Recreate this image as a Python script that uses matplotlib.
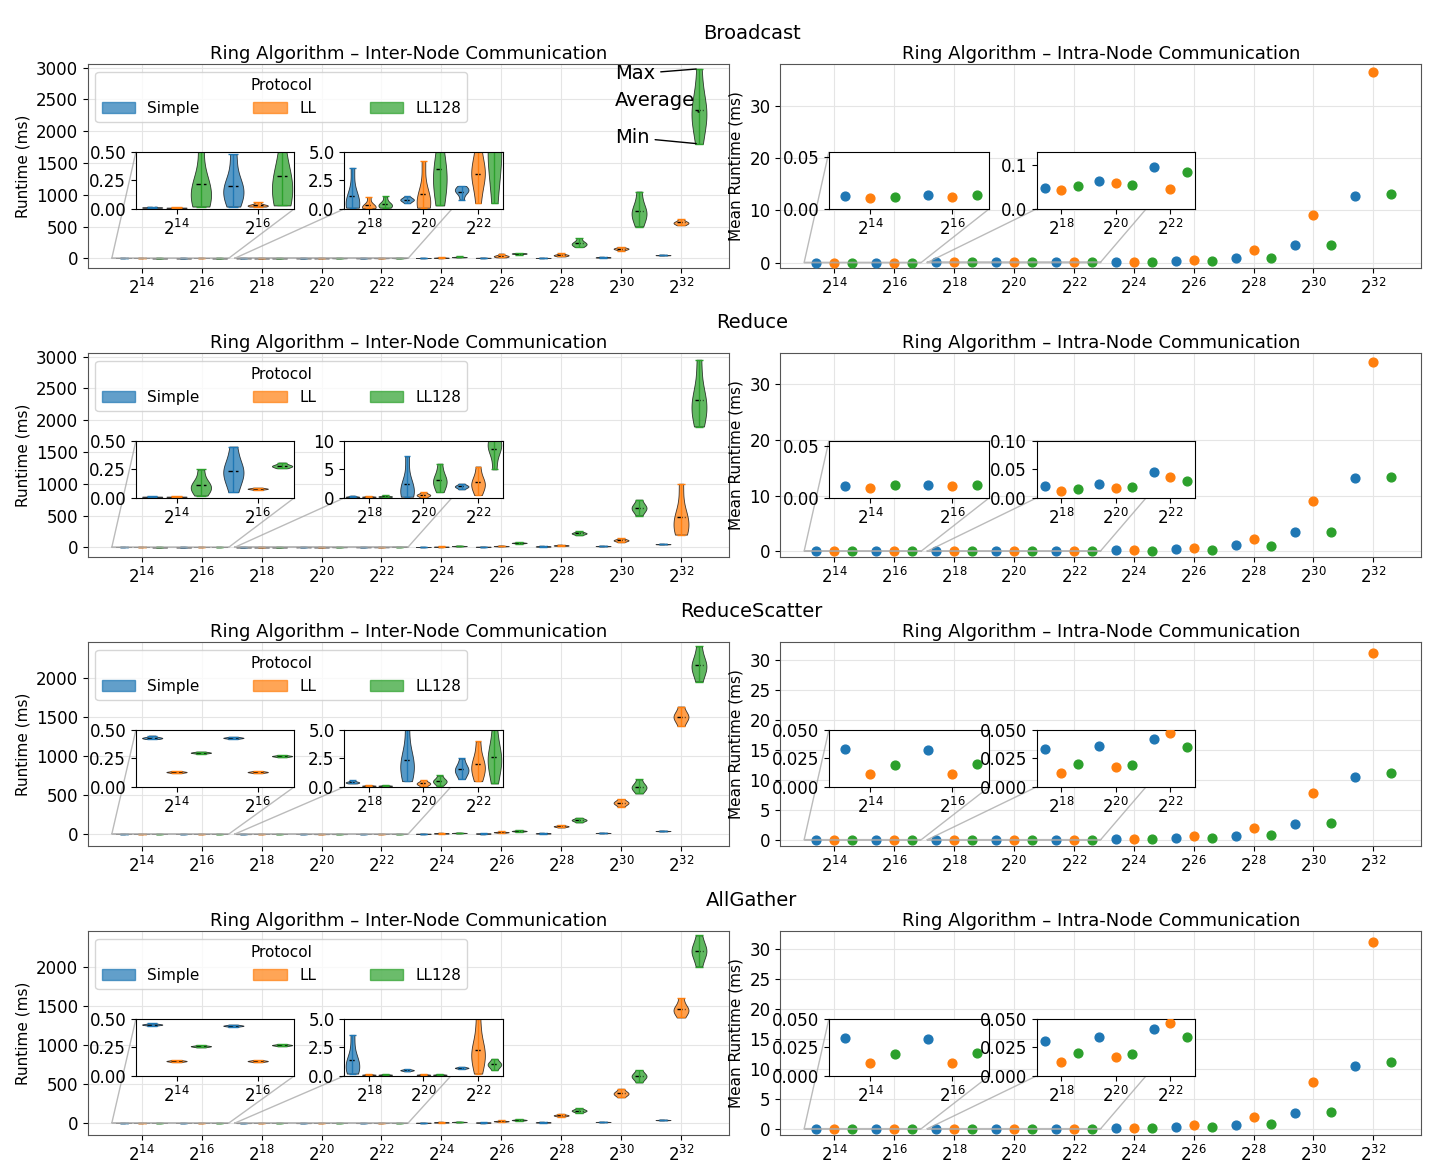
import numpy as np
import matplotlib.pyplot as plt

# message sizes 2^14 .. 2^32
exponents = [14, 16, 18, 20, 22, 24, 26, 28, 30, 32]
protocols = ['Simple', 'LL', 'LL128']
colors = ['#1f77b4', '#ff7f0e', '#2ca02c']
ops = ['Broadcast', 'Reduce', 'ReduceScatter', 'AllGather']

# inter-node runtime (min, mean, max) in ms
bcast_inter_simple = [(0.01, 0.012, 0.015), (0.02, 0.17, 0.48), (0.1, 0.6, 3.6), (0.5, 0.8, 1.1), (0.8, 1.6, 2.0),
                      (3, 5, 7), (6, 8, 11), (4, 6, 9), (12, 15, 19), (45, 50, 56)]
bcast_inter_ll = [(0.008, 0.01, 0.013), (0.02, 0.03, 0.06), (0.05, 0.2, 1.05), (0.1, 0.7, 4.2), (0.5, 3.1, 5.5),
                  (5, 10, 20), (15, 35, 75), (30, 50, 80), (120, 150, 175), (520, 560, 620)]
bcast_inter_ll128 = [(0.02, 0.15, 0.6), (0.03, 0.21, 0.8), (0.1, 0.35, 1.1), (0.3, 3, 8), (0.5, 5, 10),
                     (15, 20, 30), (60, 75, 85), (180, 230, 320), (500, 720, 1050), (1800, 2300, 2980)]

reduce_inter_simple = [(0.008, 0.01, 0.013), (0.05, 0.23, 0.45), (0.1, 0.2, 0.4), (0.2, 1.5, 7.3), (1.5, 2, 2.5),
                       (3, 5, 7), (6, 9, 12), (10, 14, 18), (15, 20, 25), (45, 50, 56)]
reduce_inter_ll = [(0.008, 0.01, 0.013), (0.07, 0.08, 0.09), (0.1, 0.2, 0.3), (0.1, 0.5, 1.0), (0.5, 2.5, 5.5),
                   (6, 10, 14), (15, 20, 28), (22, 30, 40), (80, 110, 140), (200, 400, 1000)]
reduce_inter_ll128 = [(0.02, 0.1, 0.25), (0.26, 0.28, 0.31), (0.1, 0.25, 0.5), (1, 3, 6), (5, 9, 11),
                      (15, 20, 26), (60, 70, 80), (190, 220, 250), (500, 620, 750), (1900, 2250, 2950)]

rs_inter_simple = [(0.42, 0.43, 0.45), (0.42, 0.43, 0.44), (0.3, 0.4, 0.6), (0.5, 2, 5.5), (0.7, 1.5, 2.5),
                   (3, 5, 7), (6, 8, 10), (8, 10, 13), (12, 15, 18), (36, 40, 45)]
rs_inter_ll = [(0.12, 0.13, 0.14), (0.12, 0.13, 0.14), (0.05, 0.1, 0.15), (0.05, 0.3, 0.6), (0.5, 1.8, 4),
               (7, 10, 14), (18, 25, 35), (85, 100, 115), (350, 400, 450), (1380, 1500, 1630)]
rs_inter_ll128 = [(0.29, 0.3, 0.31), (0.26, 0.27, 0.28), (0.05, 0.1, 0.15), (0.1, 0.5, 1.0), (0.3, 2.5, 5.5),
                  (11, 15, 19), (30, 40, 50), (150, 180, 210), (520, 600, 700), (1950, 2150, 2400)]

ag_inter_simple = [(0.44, 0.45, 0.46), (0.43, 0.44, 0.45), (0.2, 1.0, 3.6), (0.4, 0.5, 0.6), (0.6, 0.7, 0.8),
                   (3, 5, 7), (6, 8, 10), (8, 10, 13), (12, 15, 18), (36, 40, 45)]
ag_inter_ll = [(0.12, 0.13, 0.14), (0.12, 0.13, 0.14), (0.05, 0.1, 0.15), (0.05, 0.1, 0.15), (0.2, 2, 5),
               (7, 10, 14), (18, 25, 35), (85, 100, 120), (330, 380, 440), (1350, 1450, 1600)]
ag_inter_ll128 = [(0.25, 0.26, 0.27), (0.26, 0.27, 0.28), (0.05, 0.1, 0.15), (0.05, 0.1, 0.15), (0.5, 1, 1.5),
                  (11, 15, 19), (30, 40, 50), (130, 160, 190), (520, 600, 680), (2000, 2200, 2400)]

# intra-node mean runtime in ms
bcast_intra_simple = [0.012, 0.013, 0.047, 0.063, 0.095, 0.2, 0.3, 0.9, 3.3, 12.8]
bcast_intra_ll = [0.010, 0.011, 0.044, 0.059, 0.045, 0.15, 0.6, 2.4, 9.2, 36.5]
bcast_intra_ll128 = [0.011, 0.013, 0.053, 0.055, 0.085, 0.15, 0.25, 0.85, 3.4, 13.2]

reduce_intra_simple = [0.011, 0.012, 0.020, 0.024, 0.045, 0.2, 0.35, 1.1, 3.5, 13.2]
reduce_intra_ll = [0.010, 0.011, 0.012, 0.018, 0.037, 0.15, 0.6, 2.2, 9.0, 34.0]
reduce_intra_ll128 = [0.012, 0.012, 0.016, 0.019, 0.030, 0.1, 0.3, 0.9, 3.4, 13.3]

rs_intra_simple = [0.033, 0.032, 0.033, 0.036, 0.042, 0.2, 0.3, 0.7, 2.7, 10.5]
rs_intra_ll = [0.011, 0.011, 0.012, 0.017, 0.047, 0.2, 0.6, 2.0, 7.9, 31.3]
rs_intra_ll128 = [0.019, 0.020, 0.020, 0.019, 0.035, 0.15, 0.3, 0.8, 2.8, 11.2]

ag_intra_simple = [0.033, 0.032, 0.031, 0.034, 0.041, 0.2, 0.3, 0.7, 2.6, 10.5]
ag_intra_ll = [0.011, 0.011, 0.012, 0.017, 0.046, 0.2, 0.6, 2.0, 7.9, 31.3]
ag_intra_ll128 = [0.019, 0.020, 0.020, 0.019, 0.034, 0.15, 0.3, 0.8, 2.8, 11.2]

inter = [[bcast_inter_simple, bcast_inter_ll, bcast_inter_ll128],
         [reduce_inter_simple, reduce_inter_ll, reduce_inter_ll128],
         [rs_inter_simple, rs_inter_ll, rs_inter_ll128],
         [ag_inter_simple, ag_inter_ll, ag_inter_ll128]]
intra = [[bcast_intra_simple, bcast_intra_ll, bcast_intra_ll128],
         [reduce_intra_simple, reduce_intra_ll, reduce_intra_ll128],
         [rs_intra_simple, rs_intra_ll, rs_intra_ll128],
         [ag_intra_simple, ag_intra_ll, ag_intra_ll128]]

# inset y ranges
inter_inset_ylim = [(0.5, 5), (0.5, 10), (0.5, 5), (0.5, 5)]
intra_inset_ylim = [(0.055, 0.13), (0.055, 0.10), (0.05, 0.05), (0.05, 0.05)]
inter_ylim = [(-150, 3050), (-150, 3050), (-150, 2450), (-150, 2450)]
inter_ymax_tick = [3000, 3000, 2000, 2000]
intra_ylim = [(-1, 38), (-1, 35.5), (-1, 33), (-1, 33)]

offsets = [-0.3, 0, 0.3]
xs = np.arange(len(exponents))
xlabels = [f'$2^{{{e}}}$' for e in exponents]


def draw_violins(ax, series, idx=None):
    for p, data in enumerate(series):
        for i, (lo, mid, hi) in enumerate(data):
            if idx is not None and i not in idx:
                continue
            samples = [lo, mid, mid, mid, hi]
            parts = ax.violinplot([samples], positions=[i + offsets[p]], widths=0.25,
                                  showextrema=True, showmeans=True)
            for b in parts['bodies']:
                b.set_facecolor(colors[p])
                b.set_edgecolor('black')
                b.set_linewidth(0.6)
                b.set_alpha(0.75)
            for k in ['cmins', 'cmaxes', 'cbars']:
                parts[k].set_color(colors[p])
                parts[k].set_linewidth(1.0)
            parts['cmeans'].set_color('black')
            parts['cmeans'].set_linestyle('--')
            parts['cmeans'].set_linewidth(1.0)


def draw_points(ax, series, idx=None):
    for p, data in enumerate(series):
        sel = range(len(data)) if idx is None else idx
        ax.scatter([i + offsets[p] for i in sel], [data[i] for i in sel], color=colors[p], s=40, zorder=3)


def style(ax):
    ax.set_xticks(xs)
    ax.set_xticklabels(xlabels, fontsize=12)
    ax.tick_params(labelsize=12)
    ax.set_xlim(-0.9, 9.8)
    ax.grid(True, color='#e5e5e5', linewidth=0.8)
    ax.set_axisbelow(True)
    for s in ax.spines.values():
        s.set_color('#555555')


fig, axes = plt.subplots(4, 2, figsize=(14.4, 11.7), dpi=100)
fig.subplots_adjust(left=0.061, right=0.987, top=0.945, bottom=0.03, hspace=0.42, wspace=0.08)

for r, op in enumerate(ops):
    axl, axr = axes[r]
    # left: inter-node violins
    draw_violins(axl, inter[r])
    style(axl)
    axl.set_ylim(*inter_ylim[r])
    axl.set_yticks(np.arange(0, inter_ymax_tick[r] + 1, 500))
    axl.set_ylabel('Runtime (ms)', fontsize=11)
    axl.set_title('Ring Algorithm – Inter-Node Communication', fontsize=13, pad=4)
    handles = [plt.Rectangle((0, 0), 1, 1, facecolor=c, edgecolor=c, alpha=0.7) for c in colors]
    axl.legend(handles, protocols, title='Protocol', ncol=3, loc='upper left', fontsize=11,
               title_fontsize=11, columnspacing=3.5, handlelength=2.2)

    ins1 = axl.inset_axes([0.075, 0.29, 0.247, 0.28])
    draw_violins(ins1, inter[r], idx=[0, 1])
    ins1.set_xlim(-0.5, 1.45)
    ins1.set_ylim(0, inter_inset_ylim[r][0])
    ins1.set_yticks(np.linspace(0, inter_inset_ylim[r][0], 3))
    ins2 = axl.inset_axes([0.40, 0.29, 0.247, 0.28])
    draw_violins(ins2, inter[r], idx=[2, 3, 4])
    ins2.set_xlim(1.55, 4.45)
    ins2.set_ylim(0, inter_inset_ylim[r][1])
    ins2.set_yticks(np.linspace(0, inter_inset_ylim[r][1], 3))
    for ins, ticks in [(ins1, [0, 1]), (ins2, [2, 3, 4])]:
        ins.set_xticks(ticks)
        ins.set_xticklabels([xlabels[t] for t in ticks], fontsize=12)
        ins.tick_params(labelsize=12)
        axl.indicate_inset_zoom(ins, edgecolor='#aaaaaa', alpha=0.8)

    # right: intra-node means
    draw_points(axr, intra[r])
    style(axr)
    axr.set_ylim(*intra_ylim[r])
    if r >= 2:
        axr.set_yticks([0, 5, 10, 15, 20, 25, 30])
    else:
        axr.set_yticks([0, 10, 20, 30])
    axr.set_ylabel('Mean Runtime (ms)', fontsize=11)
    axr.set_title('Ring Algorithm – Intra-Node Communication', fontsize=13, pad=4)
    rin1 = axr.inset_axes([0.076, 0.29, 0.25, 0.28])
    draw_points(rin1, intra[r], idx=[0, 1])
    rin1.set_xlim(-0.5, 1.45)
    rin1.set_ylim(0, intra_inset_ylim[r][0])
    rin2 = axr.inset_axes([0.40, 0.29, 0.247, 0.28])
    draw_points(rin2, intra[r], idx=[2, 3, 4])
    rin2.set_xlim(1.55, 4.45)
    rin2.set_ylim(0, intra_inset_ylim[r][1])
    if r < 2:
        rin1.set_yticks([0, 0.05])
        rin2.set_yticks([0, 0.1] if r == 0 else [0, 0.05, 0.1])
    else:
        rin1.set_yticks([0, 0.025, 0.05])
        rin2.set_yticks([0, 0.025, 0.05])
    for ins, ticks in [(rin1, [0, 1]), (rin2, [2, 3, 4])]:
        ins.set_xticks(ticks)
        ins.set_xticklabels([xlabels[t] for t in ticks], fontsize=12)
        ins.tick_params(labelsize=12)
        axr.indicate_inset_zoom(ins, edgecolor='#aaaaaa', alpha=0.8)

    # row title
    top = axl.get_position().y1
    fig.text(0.522, top + 0.022, op, ha='center', fontsize=14)

# Max / Average / Min callouts on the Broadcast panel
ax0 = axes[0, 0]
lo, mid, hi = bcast_inter_ll128[-1]
xv = 9 + offsets[2]
ax0.annotate('Max', xy=(xv, hi), xytext=(7.9, 2900), fontsize=14, va='center',
             arrowprops=dict(arrowstyle='-', color='black', lw=1))
ax0.annotate('Average', xy=(xv, mid), xytext=(7.9, 2480), fontsize=14, va='center',
             arrowprops=dict(arrowstyle='-', color='black', lw=1))
ax0.annotate('Min', xy=(xv, lo), xytext=(7.9, 1900), fontsize=14, va='center',
             arrowprops=dict(arrowstyle='-', color='black', lw=1))

fig.savefig('out.png')
